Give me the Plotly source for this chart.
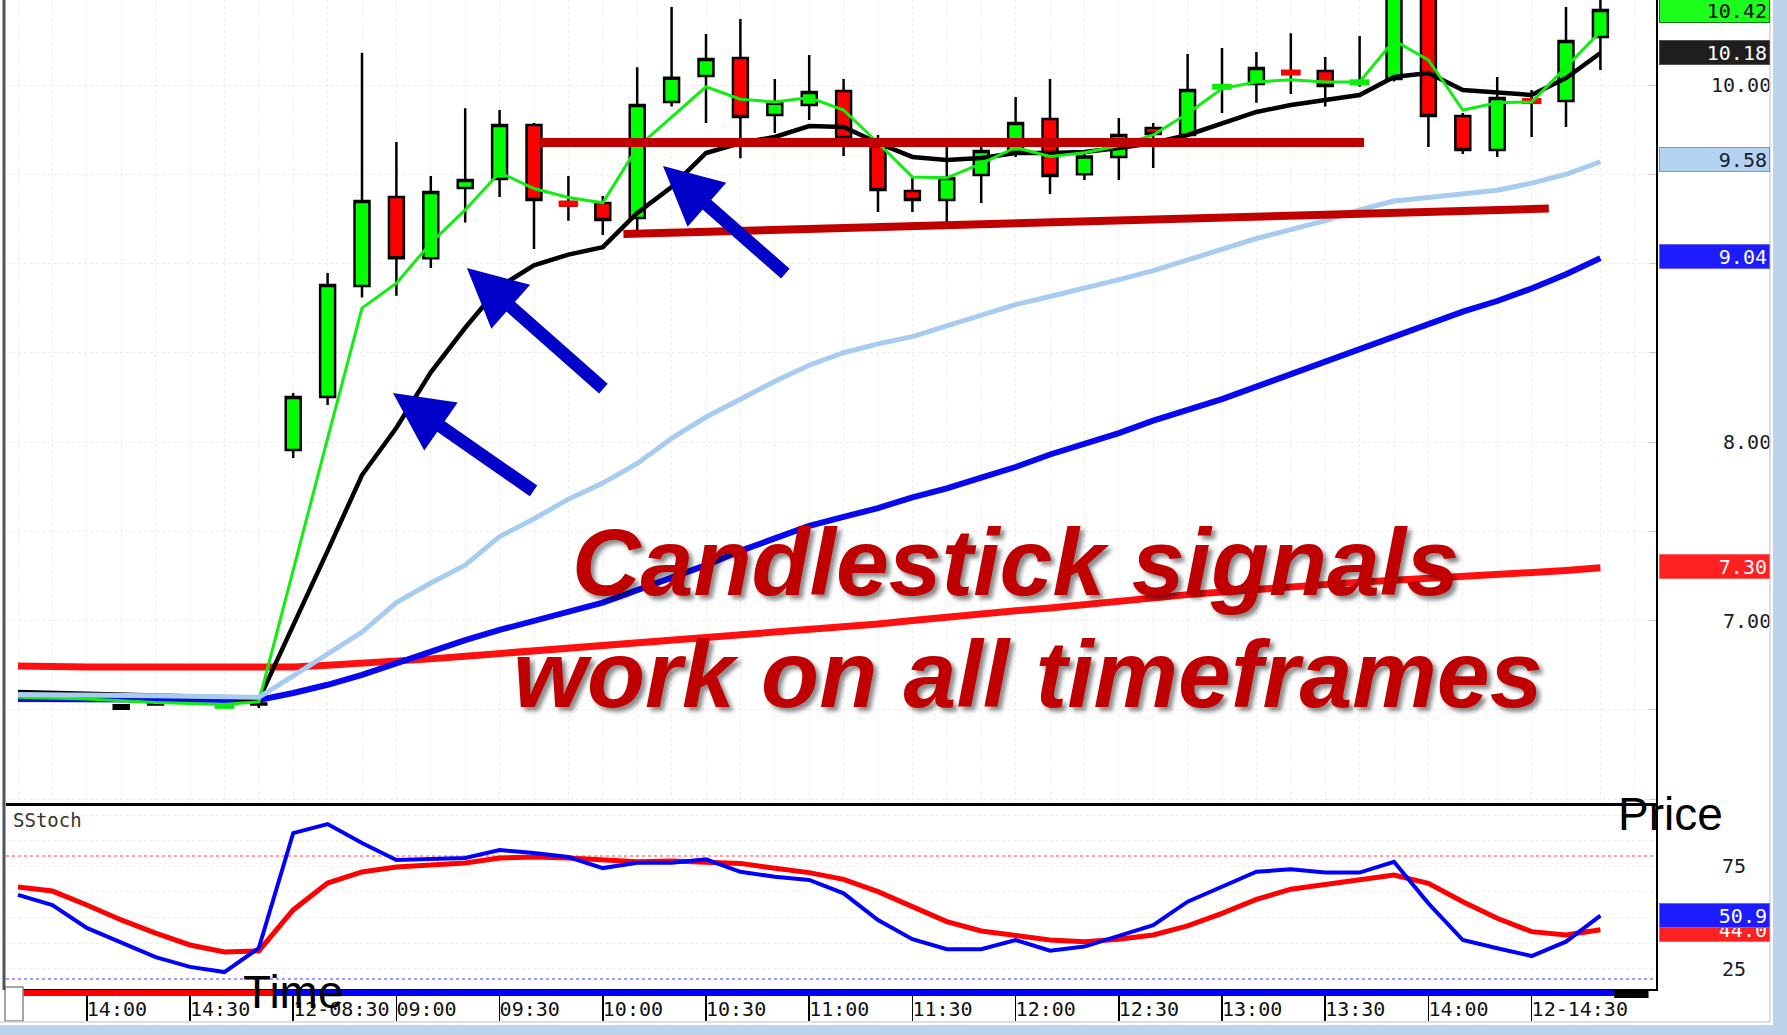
import plotly.graph_objects as go

W, H = 1787, 1035


def X(px):
    return px / W


def Y(py):
    return 1 - py / H


# ---------------- data ----------------
bar_index = list(range(47))
tick_index = [2, 5, 8, 11, 14, 17, 20, 23, 26, 29, 32, 35, 38, 41, 44]
tick_labels = ["14:00", "14:30", "12-08:30", "09:00", "09:30", "10:00", "10:30",
               "11:00", "11:30", "12:00", "12:30", "13:00", "13:30", "14:00", "12-14:30"]

candle_index = [3, 4, 6, 7, 8, 9, 10, 11, 12, 13, 14, 15, 16, 17, 18, 19, 20, 21, 22, 23, 24, 25,
                26, 27, 28, 29, 30, 31, 32, 33, 34, 35, 36, 37, 38, 39, 40, 41, 42, 43, 44, 45, 46]
opens = [6.505, 6.535, 6.52, 6.53, 7.955, 8.252, 8.874, 9.373, 9.03, 9.423, 9.473, 9.776, 9.345,
         9.339, 9.255, 9.905, 10.05, 10.151, 9.832, 9.888, 9.966, 9.658, 9.406, 9.356, 9.496,
         9.625, 9.81, 9.50, 9.597, 9.759, 9.72, 9.985, 10.006, 10.075, 10.078, 10.01, 10.034,
         10.60, 9.826, 9.636, 9.915, 9.91, 10.269]
highs = [6.53, 6.54, 6.53, 6.55, 8.274, 8.947, 10.18, 9.68, 9.49, 9.87, 9.86, 9.787, 9.49,
         9.378, 10.10, 10.437, 10.286, 10.37, 10.034, 10.168, 10.034, 9.72, 9.49, 9.653, 9.653,
         9.933, 10.034, 9.62, 9.815, 9.787, 10.174, 10.207, 10.185, 10.29, 10.157, 10.275, 10.70,
         10.70, 9.843, 10.045, 9.972, 10.437, 10.50]
lows = [6.50, 6.525, 6.515, 6.51, 7.91, 8.207, 8.81, 8.82, 8.975, 9.23, 9.373, 9.081, 9.24,
        9.16, 9.188, 9.88, 9.787, 9.59, 9.731, 9.804, 9.602, 9.289, 9.289, 9.232, 9.339,
        9.597, 9.389, 9.468, 9.468, 9.535, 9.709, 9.843, 9.90, 9.95, 9.88, 9.99, 10.02,
        9.653, 9.613, 9.597, 9.709, 9.765, 10.084]
closes = [6.525, 6.53, 6.525, 6.535, 8.252, 8.88, 9.35, 9.03, 9.40, 9.468, 9.776, 9.356, 9.325,
          9.244, 9.888, 10.04, 10.146, 9.821, 9.90, 9.961, 9.703, 9.412, 9.356, 9.479, 9.63,
          9.787, 9.49, 9.60, 9.72, 9.725, 9.972, 9.995, 10.095, 10.065, 9.994, 10.02, 10.60,
          9.826, 9.636, 9.927, 9.905, 10.246, 10.42]

doji_index = [6, 16, 35, 37, 39, 44]
doji_price = [6.522, 9.335, 9.99, 10.07, 10.015, 9.91]
doji_color = ["#00ee00", "#ff0000", "#00ee00", "#ff0000", "#00ee00", "#ff0000"]

ma_green = [6.57, 6.565, 6.56, 6.55, 6.54, 6.535, 6.53, 6.545, 7.29, 8.02, 8.75, 8.89, 9.115,
            9.30, 9.51, 9.42, 9.37, 9.34, 9.65, 9.82, 9.99, 9.92, 9.905, 9.93, 9.86, 9.675,
            9.485, 9.48, 9.56, 9.65, 9.60, 9.62, 9.66, 9.72, 9.84, 9.98, 10.017, 10.03,
            10.017, 10.017, 10.25, 10.14, 9.86, 9.90, 9.905, 10.10, 10.30]
ma_black = [6.60, 6.595, 6.59, 6.585, 6.58, 6.575, 6.57, 6.555, 6.97, 7.39, 7.815, 8.08, 8.39,
            8.64, 8.87, 8.99, 9.05, 9.092, 9.283, 9.429, 9.619, 9.675, 9.709, 9.770, 9.765,
            9.675, 9.597, 9.580, 9.591, 9.619, 9.619, 9.625, 9.647, 9.675, 9.720, 9.787, 9.849,
            9.888, 9.916, 9.944, 10.045, 10.067, 9.972, 9.955, 9.944, 10.039, 10.179]
ma_lightblue = [6.585, 6.585, 6.583, 6.58, 6.578, 6.575, 6.572, 6.57, 6.69, 6.81, 6.935, 7.10,
                7.21, 7.31, 7.47, 7.57, 7.68, 7.77, 7.88, 8.02, 8.14, 8.24, 8.34, 8.43, 8.50,
                8.55, 8.59, 8.65, 8.71, 8.77, 8.815, 8.86, 8.91, 8.96, 9.02, 9.08, 9.14, 9.19,
                9.24, 9.30, 9.35, 9.37, 9.39, 9.41, 9.45, 9.50, 9.57]
ma_blue = [6.56, 6.56, 6.56, 6.558, 6.557, 6.556, 6.555, 6.555, 6.594, 6.64, 6.695, 6.762,
           6.824, 6.89, 6.947, 6.997, 7.047, 7.10, 7.17, 7.24, 7.31, 7.39, 7.46, 7.53, 7.58,
           7.63, 7.69, 7.74, 7.80, 7.86, 7.93, 7.99, 8.05, 8.12, 8.18, 8.24, 8.31, 8.38, 8.45,
           8.52, 8.59, 8.66, 8.73, 8.79, 8.86, 8.94, 9.03]
ma_red = [6.745, 6.74, 6.74, 6.74, 6.74, 6.74, 6.74, 6.74, 6.74, 6.75, 6.76, 6.77, 6.785, 6.80,
          6.815, 6.83, 6.845, 6.86, 6.87, 6.89, 6.905, 6.92, 6.935, 6.95, 6.965, 6.98, 7.00,
          7.02, 7.04, 7.055, 7.07, 7.09, 7.11, 7.13, 7.145, 7.16, 7.175, 7.19, 7.20, 7.215,
          7.225, 7.235, 7.245, 7.26, 7.27, 7.28, 7.295]

stoch_k = [61.0, 56.1, 44.9, 37.6, 30.7, 25.9, 23.4, 35.1, 91.2, 95.6, 86.3, 78.0, 78.5, 79.0,
           82.9, 81.5, 79.5, 74.1, 76.7, 76.7, 78.4, 72.3, 69.9, 68.3, 61.8, 48.8, 39.4, 34.5,
           34.5, 39.0, 33.8, 35.8, 41.0, 46.3, 57.7, 65.0, 72.3, 73.5, 71.9, 71.9, 77.2, 56.9,
           39.0, 35.0, 31.2, 38.2, 50.9]
stoch_d = [64.9, 62.9, 56.1, 48.8, 42.4, 36.6, 33.2, 33.7, 53.7, 66.8, 72.2, 74.6, 75.6, 76.6,
           79.0, 79.5, 79.0, 78.0, 77.2, 77.6, 77.2, 76.4, 74.0, 71.9, 68.6, 62.6, 55.3, 48.0,
           43.4, 41.5, 39.0, 38.2, 39.4, 41.5, 45.9, 52.0, 58.8, 63.8, 66.3, 68.3, 70.7, 66.7,
           57.7, 49.6, 43.1, 41.5, 44.0]
stoch_levels = [80, 20]

resistance_x = [15.15, 39.13]
resistance_y = [9.678, 9.678]
support_x = [17.6, 44.5]
support_y = [9.165, 9.308]

# arrows: (head_x, head_y, tail_x, tail_y)
arrows = [(10.90, 8.274, 15.03, 7.72),
          (13.05, 8.975, 17.06, 8.291),
          (18.75, 9.546, 22.35, 8.936)]

price_ticks = [7, 8, 10]
price_tick_text = ["\u00a07.00", "\u00a08.00", "10.00"]
price_tags = [(10.42, "#1cff1c", "#117711", "#000000"),
              (10.18, "#1e1e1e", "#555555", "#ffffff"),
              (9.58, "#b4d3f2", "#7c98b4", "#1a1a2a"),
              (9.04, "#1c1cff", "#6666ff", "#ffffff"),
              (7.30, "#ff2020", "#ff6060", "#ffffff")]
stoch_tags = [(44.0, "#ff2020", "#ff6060", "#ffffff"),
              (50.9, "#1c1cff", "#6666ff", "#ffffff")]

# ---------------- geometry ----------------
XR = [-0.3488, 47.616]
MONO = "DejaVu Sans Mono"

fig = go.Figure()

fig.add_trace(go.Candlestick(
    x=candle_index, open=opens, high=highs, low=lows, close=closes,
    increasing=dict(line=dict(color="black", width=2.5), fillcolor="#00ff00"),
    decreasing=dict(line=dict(color="black", width=2.5), fillcolor="#ff0000"),
    whiskerwidth=0, showlegend=False, hoverinfo="skip", xaxis="x", yaxis="y"))

fig.add_trace(go.Scatter(x=doji_index, y=doji_price, mode="markers",
                         marker=dict(symbol="line-ew", size=14, color=doji_color,
                                     line=dict(color=doji_color, width=6)),
                         showlegend=False, hoverinfo="skip"))

for vals, col, wdt in [(ma_red, "#ff1010", 7), (ma_blue, "#0808f0", 6),
                       (ma_black, "#000000", 4.5), (ma_green, "#10ee10", 3),
                       (ma_lightblue, "#a8ccf0", 5)]:
    fig.add_trace(go.Scatter(x=bar_index, y=vals, mode="lines",
                             line=dict(color=col, width=wdt),
                             showlegend=False, hoverinfo="skip"))

fig.add_trace(go.Scatter(x=resistance_x, y=resistance_y, mode="lines",
                         line=dict(color="#c00000", width=9), showlegend=False, hoverinfo="skip"))
fig.add_trace(go.Scatter(x=support_x, y=support_y, mode="lines",
                         line=dict(color="#c00000", width=8), showlegend=False, hoverinfo="skip"))

fig.add_trace(go.Scatter(x=bar_index, y=stoch_d, mode="lines", line=dict(color="#ff0000", width=5),
                         xaxis="x2", yaxis="y2", showlegend=False, hoverinfo="skip"))
fig.add_trace(go.Scatter(x=bar_index, y=stoch_k, mode="lines", line=dict(color="#0000ff", width=4),
                         xaxis="x2", yaxis="y2", showlegend=False, hoverinfo="skip"))
# carrier for the time-label axis
fig.add_trace(go.Scatter(x=[None], y=[None], xaxis="x3", yaxis="y2",
                         showlegend=False, hoverinfo="skip"))

grid = dict(showgrid=True, gridcolor="#ececec", griddash="dot", gridwidth=1)

fig.update_layout(
    width=W, height=H, margin=dict(l=0, r=0, t=0, b=0),
    paper_bgcolor="white", plot_bgcolor="white", showlegend=False, boxgap=0.38,
    xaxis=dict(domain=[X(6), X(1656)], range=XR, anchor="y", rangeslider=dict(visible=False),
               showticklabels=False, ticks="", showline=True, linecolor="black", linewidth=3,
               zeroline=False, dtick=1, tick0=0, **grid),
    yaxis=dict(domain=[Y(803), 1], range=[5.9776, 10.4762], anchor="x", side="right",
               tickvals=price_ticks, ticktext=price_tick_text, ticks="inside", ticklen=7,
               tickcolor="#c8c8c8", ticklabelstandoff=49,
               tickfont=dict(family=MONO, size=20, color="#1a1a2a"),
               showline=True, linecolor="black", linewidth=2, zeroline=False,
               minor=dict(dtick=0.5, tick0=0, ticks="inside", ticklen=7, tickcolor="#c8c8c8",
                          showgrid=True, gridcolor="#ececec", griddash="dot"),
               **grid),
    xaxis2=dict(domain=[X(6), X(1656)], range=XR, anchor="y2", tickvals=tick_index,
                showticklabels=False, ticks="outside", ticklen=30, tickwidth=1.5,
                tickcolor="black", showline=True, linecolor="black", linewidth=2,
                zeroline=False, showgrid=False),
    xaxis3=dict(range=XR, overlaying="x2", anchor="free", position=Y(995),
                tickvals=tick_index, ticktext=tick_labels, ticks="",
                ticklabelposition="outside right", showline=False, showgrid=False,
                zeroline=False, tickfont=dict(family=MONO, size=20, color="#111111")),
    yaxis2=dict(domain=[Y(989), Y(804)], range=[15.12, 105.37], anchor="x2", side="right",
                tickvals=[25, 75], ticktext=["25", "75"], ticks="", ticklabelstandoff=60,
                tickfont=dict(family=MONO, size=20, color="#1a1a2a"),
                showline=True, linecolor="black", linewidth=2, zeroline=False,
                showgrid=False,
                minor=dict(dtick=12.5, tick0=0, showgrid=True, gridcolor="#ececec",
                           griddash="dot")),
)

shapes = []
# overbought / oversold levels
for lvl, col in zip(stoch_levels, ["#ff8080", "#8080ff"]):
    shapes.append(dict(type="line", xref="x2 domain", yref="y2", x0=0, x1=1, y0=lvl, y1=lvl,
                       line=dict(color=col, width=1.5, dash="dot"), layer="below"))
# time navigator bar
shapes.append(dict(type="rect", xref="x2", yref="paper", x0=XR[0] + 0.5, x1=7.5,
                   y0=Y(996), y1=Y(990), fillcolor="#ff0000", line=dict(width=0)))
shapes.append(dict(type="rect", xref="x2", yref="paper", x0=7.5, x1=46.4,
                   y0=Y(996), y1=Y(990), fillcolor="#0000ff", line=dict(width=0)))
shapes.append(dict(type="rect", xref="x2", yref="paper", x0=46.4, x1=47.4,
                   y0=Y(998), y1=Y(990), fillcolor="#000000", line=dict(width=0)))
# window chrome
shapes.append(dict(type="rect", xref="paper", yref="paper", x0=X(5), x1=X(23), y0=Y(1021),
                   y1=Y(987), fillcolor="white", line=dict(color="#888888", width=1.5)))
shapes.append(dict(type="line", xref="paper", yref="paper", x0=X(4), x1=X(4), y0=Y(990), y1=1,
                   line=dict(color="#4a5560", width=3)))
shapes.append(dict(type="line", xref="paper", yref="paper", x0=0, x1=X(1770), y0=Y(1022),
                   y1=Y(1022), line=dict(color="#d4d4d4", width=1.5)))
shapes.append(dict(type="line", xref="paper", yref="paper", x0=X(1770), x1=X(1770), y0=Y(1022),
                   y1=1, line=dict(color="#d4d4d4", width=1.5)))
shapes.append(dict(type="rect", xref="paper", yref="paper", x0=X(1773), x1=1, y0=0, y1=1,
                   fillcolor="#bcd3ec", line=dict(width=0)))
shapes.append(dict(type="rect", xref="paper", yref="paper", x0=0, x1=1, y0=0, y1=Y(1025),
                   fillcolor="#bcd3ec", line=dict(width=0)))
fig.update_layout(shapes=shapes)

ann = []
for hx, hy, tx, ty in arrows:
    ann.append(dict(x=hx, y=hy, ax=tx, ay=ty, xref="x", yref="y", axref="x", ayref="y",
                    text="", showarrow=True, arrowhead=2, arrowsize=0.9, arrowwidth=13,
                    arrowcolor="#0000c8", standoff=0))

shadow = "4px 4px 4px rgba(0,0,0,0.45)"
ann.append(dict(x=X(1015), y=Y(562), xref="paper", yref="paper", xanchor="center",
                yanchor="middle", showarrow=False, text="<b><i>Candlestick signals</i></b>",
                font=dict(family="Liberation Sans", size=95, color="#c00000", shadow=shadow)))
ann.append(dict(x=X(1028), y=Y(674), xref="paper", yref="paper", xanchor="center",
                yanchor="middle", showarrow=False, text="<b><i>work on all timeframes</i></b>",
                font=dict(family="Liberation Sans", size=95, color="#c00000", shadow=shadow)))

for val, bg, bd, fc in price_tags:
    ann.append(dict(x=X(1770), y=val, xref="paper", yref="y", xanchor="right", yanchor="middle",
                    text=f"{val:.2f}", showarrow=False, bgcolor=bg, bordercolor=bd,
                    borderwidth=1, borderpad=2, width=105, height=19, align="right",
                    font=dict(family=MONO, size=20, color=fc)))
for val, bg, bd, fc in stoch_tags:
    ann.append(dict(x=X(1770), y=val, xref="paper", yref="y2", xanchor="right", yanchor="middle",
                    text=f"{val:.1f}", showarrow=False, bgcolor=bg, bordercolor=bd,
                    borderwidth=1, borderpad=2, width=105, height=19, align="right",
                    font=dict(family=MONO, size=20, color=fc)))

ann.append(dict(x=X(11), y=Y(820), xref="paper", yref="paper", xanchor="left", yanchor="middle",
                text="SStoch", showarrow=False,
                font=dict(family=MONO, size=19, color="#333333")))
ann.append(dict(x=X(1616), y=Y(814), xref="paper", yref="paper", xanchor="left",
                yanchor="middle", text="Price", showarrow=False,
                font=dict(family="Liberation Sans", size=46, color="#000000")))
ann.append(dict(x=X(241), y=Y(992), xref="paper", yref="paper", xanchor="left",
                yanchor="middle", text="Time", showarrow=False,
                font=dict(family="Liberation Sans", size=46, color="#000000")))
fig.update_layout(annotations=ann)

fig.write_html("out.html",
               config={"displayModeBar": False, "staticPlot": True},
               post_script="document.body.style.margin='0px';"
                           "document.body.style.overflow='hidden';")
